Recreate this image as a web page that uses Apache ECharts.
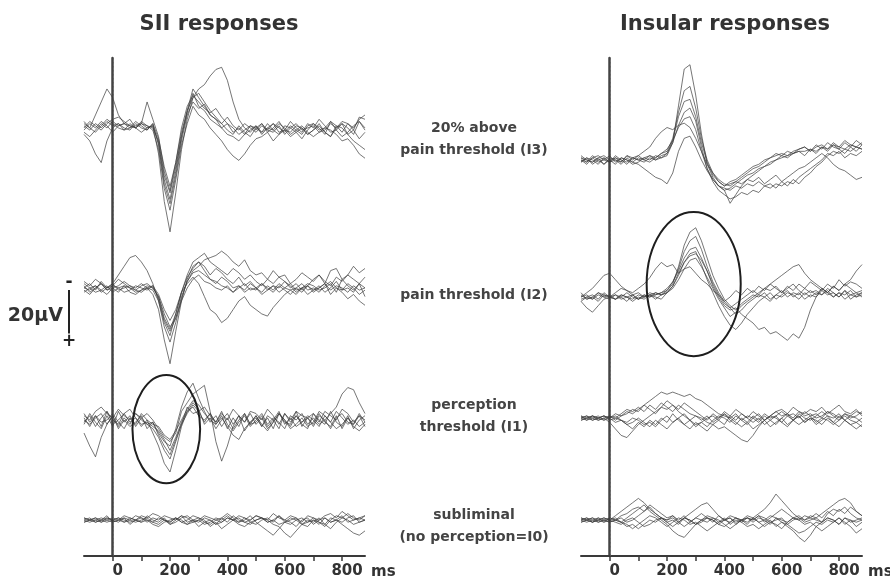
<!DOCTYPE html>
<html><head><meta charset="utf-8">
<script src="https://cdn.jsdelivr.net/npm/echarts@6/dist/echarts.min.js"></script>
<style>html,body{margin:0;padding:0;background:#fff}#c{width:890px;height:584px}</style>
</head><body><div id="c"></div>
<script>
// ---- data ----
const times = [-100,-80,-60,-40,-20,0,20,40,60,80,
  100,120,140,160,180,200,220,240,260,280,
  300,320,340,360,380,400,420,440,460,480,
  500,520,540,560,580,600,620,640,660,680,
  700,720,740,760,780,800,820,840,860,880];
const xTickValues = [0,100,200,300,400,500,600,700,800];
const xLabelValues = [0,200,400,600,800];
const panelTitles = ['SII responses','Insular responses'];
const rowLabels = [['20% above','pain threshold (I3)'],['pain threshold (I2)'],['perception','threshold (I1)'],['subliminal','(no perception=I0)']];
const scaleBarText = '20µV';
const scaleBarValue = 20;
const axisUnit = 'ms';
const stimulusOnset = 0;

// SII, 20% above pain threshold (I3), µV (negative up)
const siiI3 = [
 [1,-2,0,-3,-1,2,-1,-2,0,-3, -1,1,-2,8,26,35,22,6,-6,-12, -9,-11,-6,-4,0,-2,2,0,3,-1, 1,-2,2,0,-3,1,2,-1,0,3, 1,-2,2,4,-1,0,3,1,5,2],
 [-3,0,2,-1,-4,-2,0,1,-2,0, 2,0,-1,12,34,48,30,10,-4,-14, -16,-12,-8,-5,-2,1,3,-1,2,4, 0,2,-2,1,3,-1,0,2,5,1, -2,0,3,-3,1,4,2,-1,-3,0],
 [2,4,1,-2,0,-3,-1,-2,-4,0, -2,-1,0,6,22,30,18,4,-8,-14, -18,-20,-24,-27,-28,-22,-12,-4,0,2, -1,3,0,-2,2,1,-3,0,2,-2, 0,-4,-1,2,1,-2,0,3,-3,1],
 [-2,0,-6,-12,-18,-14,-6,-2,-1,0, -3,-1,1,10,28,38,24,8,-2,-10, -6,-4,0,3,6,10,13,15,12,8, 5,4,2,6,3,1,4,2,0,3, 1,-1,2,4,0,-2,3,6,8,10],
 [3,6,12,16,6,0,-2,1,0,-1, -2,-12,-4,4,20,29,16,2,-8,-18, -14,-10,-6,-4,-2,-5,-1,1,-2,0, 2,-1,1,-2,0,2,-1,1,3,-1, -2,1,0,-3,-1,2,-2,1,-5,-4],
 [0,-3,-1,1,-2,-4,-5,-3,-1,0, -2,0,-1,7,24,33,20,4,-7,-16, -10,-8,-4,-2,0,3,4,6,3,1, -1,2,0,1,-2,0,3,1,-1,2, 4,2,0,1,3,6,5,8,12,14],
 [-1,1,-2,0,-3,-1,-2,0,1,-2, 0,1,-2,5,18,27,16,0,-10,-15, -12,-9,-7,-9,-5,-2,0,3,1,-1, 0,-2,1,2,-1,3,0,-2,1,0, -1,2,1,-2,0,-3,-2,0,-4,-6]
];
// SII, pain threshold (I2)
const siiI2 = [
 [0,-2,1,-3,0,-1,-4,-2,0,1, -1,-2,0,4,12,18,14,6,0,-4, -6,-3,-2,0,1,-1,2,0,-2,1, 0,2,-1,1,-2,0,1,3,0,-1, 2,0,-2,1,-1,0,2,-1,1,0],
 [2,0,-1,1,3,0,2,-1,0,2, 1,0,3,10,24,35,20,6,-4,-10, -12,-8,-4,-3,-1,0,2,-1,1,-2, 0,3,1,-1,2,0,-2,1,0,3, 1,-1,2,0,-3,1,0,2,-2,0],
 [-3,-1,-4,-2,0,-2,-6,-10,-14,-15, -12,-8,-2,6,16,22,12,2,-6,-12, -14,-16,-12,-10,-8,-6,-9,-7,-4,-6, -3,-1,-4,-2,-5,-3,0,-2,1,-1, -4,-6,-3,-1,-5,-3,-6,-4,-2,-5],
 [1,3,0,-2,1,-1,0,2,1,-1, 0,1,-1,5,15,20,14,4,-3,-8, -10,-13,-14,-15,-17,-15,-12,-10,-13,-8, -6,-7,-4,-8,-5,-6,-2,-4,-7,-5, -3,-6,-2,-8,-9,-4,-6,-10,-7,-9],
 [-2,0,2,1,-1,2,0,-1,2,3, 1,-1,0,4,14,19,12,2,-2,-5, -2,4,10,12,16,14,10,6,4,8, 10,12,13,9,6,3,1,0,2,-1, 1,0,-2,3,0,2,5,3,6,8],
 [0,1,-1,2,0,-2,1,0,-1,1, 2,0,1,6,18,25,16,5,-3,-7, -8,-6,-4,-2,-5,-3,0,-1,2,0, 1,-2,0,2,-1,1,3,0,-2,1, 0,2,-1,-3,0,1,-2,0,3,1],
 [-1,2,0,-2,1,0,-1,-3,-1,0, -2,0,-1,3,10,15,10,2,-5,-9, -12,-10,-6,-9,-7,-4,-2,-5,-1,-3, 0,-2,1,-1,0,-3,-1,2,0,-2, -1,1,0,-2,2,-4,-1,1,-2,4]
];
// SII, perception threshold (I1)
const siiI1 = [
 [2,-3,1,4,-2,3,-4,1,-2,3, -1,2,4,8,14,18,10,2,-6,-3, -4,1,-3,2,-2,4,-1,3,-3,2, -2,3,-1,4,-3,1,2,-4,3,-1, 2,-3,1,3,-2,4,-1,2,-3,1],
 [-3,1,-2,3,-4,0,2,-3,1,-1, 3,0,6,12,20,24,14,3,-4,-8, -5,2,-1,4,0,-3,2,-2,5,1, -1,3,-2,0,4,-3,1,-2,2,4, -3,0,2,-4,1,3,-2,4,0,-2],
 [6,12,17,8,2,-2,3,-1,2,-3, 0,2,1,6,10,12,4,-6,-13,-17, -10,-4,1,-2,3,-1,4,0,-3,2, 1,-2,3,0,-4,2,-1,3,1,-2, 0,3,-2,1,-4,-1,2,0,3,1],
 [-2,0,-4,-6,-3,-1,-5,-2,0,-3, -1,-3,0,4,8,10,6,-4,-8,-12, -14,-16,-4,10,19,12,3,-2,1,-3, 2,-1,4,1,-3,0,3,-2,1,-1, 3,-2,0,4,-1,-3,1,2,-2,0],
 [1,-2,3,-1,-4,2,0,-3,-5,-1, 2,1,3,5,9,14,8,1,-4,-6, -2,0,-3,1,-4,2,5,1,-2,3, 0,-3,2,-1,1,4,-2,0,-3,2, -1,2,0,-3,-6,-12,-15,-14,-8,-3],
 [-1,3,-2,1,0,-3,1,4,-1,2, -3,0,2,3,7,9,5,0,-5,-9, -7,-3,0,2,-1,3,7,9,4,1, -2,2,5,1,-3,0,4,2,-1,3, 1,-4,-2,1,4,2,-1,3,5,2],
 [0,2,-1,-3,2,-2,4,0,3,1, -2,4,1,7,12,16,9,2,-3,-7, -4,-6,-2,1,-3,0,-5,-2,1,-4, -3,0,-5,-2,2,-3,0,-4,-2,-1, -3,1,-4,-2,0,-5,-3,1,-2,3]
];
// SII, subliminal (I0)
const siiI0 = [
 [0,-1,1,0,-2,1,0,-1,2,0, 1,-2,0,1,-1,2,0,-2,1,0, -1,1,2,0,-1,1,-2,0,1,2, 0,-1,1,0,-2,1,2,0,-1,1, 0,2,-1,1,0,-2,1,0,-1,0],
 [1,0,-1,1,0,-1,0,1,-1,0, -2,-1,1,-1,0,2,1,-1,-2,0, 1,-1,0,2,-1,-3,-1,1,0,-2, 1,3,5,7,4,1,-1,0,2,1, -1,1,3,0,-2,-1,0,2,1,0],
 [-1,0,1,0,-1,0,1,-1,0,1, 0,-1,-3,-2,0,1,-1,0,2,1, 0,2,1,-1,0,-2,0,-1,1,0, -2,-1,0,2,3,6,8,5,2,0, 1,-1,2,4,1,-1,-3,-1,0,-2],
 [0,1,0,-1,0,1,0,-2,-1,0, 1,0,2,3,1,0,-1,1,0,-2, -1,0,3,1,4,2,0,1,-1,1, 2,0,-1,1,-2,0,1,3,0,-1, 2,0,-1,1,0,2,4,6,7,5],
 [-1,0,0,1,-1,0,-1,1,0,-2, -1,1,-1,0,-2,-1,0,-2,-1,1, 0,-2,-1,0,1,-1,0,-2,-1,0, -2,-1,0,-3,-1,0,-2,-1,1,-2, -1,0,-2,-3,-1,-4,-2,0,-1,-2],
 [1,0,-1,0,1,0,-1,0,1,0, -1,0,1,2,0,1,-1,1,2,0, 3,1,0,2,1,-1,0,2,3,1, 0,-1,1,0,2,1,0,-1,2,3, 0,1,2,-1,0,1,-1,-2,1,0]
];
// Insula, I3
const insI3 = [
 [-1,1,-2,0,2,-1,0,1,-2,-1, 0,-1,-2,0,-1,-2,-8,-25,-42,-44, -30,-12,2,8,12,14,13,11,9,7, 6,4,3,1,0,-1,-2,-3,-4,-4, -5,-4,-6,-5,-7,-6,-5,-7,-6,-5],
 [1,-1,0,2,-1,1,-2,0,1,-1, -2,0,1,-1,-3,-4,-10,-22,-32,-34, -24,-10,0,6,10,12,11,10,8,6, 4,3,1,-1,-2,-3,-2,-4,-5,-6, -4,-6,-7,-5,-8,-6,-9,-7,-6,-8],
 [0,2,-1,1,0,-2,1,-1,0,2, 1,-1,0,-2,-1,-3,-8,-16,-22,-24, -18,-6,4,10,14,16,18,17,15,16, 14,15,12,13,11,12,10,11,8,6, 4,2,0,-3,-2,-4,-1,-3,-2,-4],
 [-2,0,1,-1,2,0,-1,1,-2,0, -2,-4,-6,-10,-13,-15,-14,-16,-17,-15, -10,-4,2,6,9,11,12,10,11,9, 10,8,11,9,7,10,8,6,4,3, 1,-1,-3,-1,2,4,5,7,9,8],
 [1,-1,2,0,-1,1,0,2,-1,1, 2,4,6,8,9,11,6,-4,-10,-11, -6,0,5,9,12,14,20,16,12,9, 7,5,3,2,0,-2,-1,-3,-4,-2, -5,-3,-6,-4,-7,-5,-3,-6,-4,-7],
 [0,1,-1,-2,0,1,-1,0,2,-1, 0,1,-1,0,-2,-3,-9,-20,-27,-28, -20,-8,1,7,10,12,10,9,7,5, 3,2,0,-1,-3,-2,-4,-3,-5,-6, -4,-7,-5,-8,-6,-5,-8,-6,-9,-7],
 [-1,0,1,-1,-2,0,2,-1,0,1, -1,0,-2,-1,-3,-5,-9,-15,-19,-20, -14,-4,4,9,12,13,14,12,13,11, 12,10,12,11,13,10,12,9,11,8, 6,3,1,-2,-4,-3,-5,-4,-6,-5]
];
// Insula, I2
const insI2 = [
 [0,-1,1,-2,0,1,-1,0,2,-1, 1,0,-1,-2,-1,-3,-6,-14,-24,-30, -32,-26,-18,-10,-4,1,4,6,3,1, -1,0,-2,1,-1,-3,0,-2,-1,-4, -2,-3,-1,-4,-2,0,-3,-1,-2,0],
 [1,0,-1,1,-2,0,1,-1,0,1, -1,0,-2,-1,-2,-4,-7,-13,-21,-26, -28,-22,-14,-7,-2,2,5,8,6,3, 1,-1,0,2,-1,0,-2,-1,1,-2, 0,-2,-1,-3,0,-2,1,-1,0,-2],
 [-1,1,0,-2,-1,0,-2,-4,-3,-2, -4,-6,-9,-13,-16,-14,-15,-11,-13,-14, -11,-8,-6,-3,-1,2,0,-3,-1,-4, -2,-5,-3,-6,-4,-2,-5,-3,-6,-4, -7,-5,-3,-6,-4,-8,-5,-7,-6,-4],
 [2,0,1,-1,0,-1,1,0,-2,0, 1,-1,0,-1,-2,-3,-7,-12,-18,-22, -23,-18,-12,-5,0,4,6,5,8,10, 12,15,14,17,16,18,20,17,19,14, 6,0,-4,-2,-5,-3,-6,-8,-12,-15],
 [-2,1,0,2,-1,0,1,-1,0,2, 0,1,-1,0,1,-2,-5,-10,-16,-20, -21,-15,-8,-2,4,9,13,15,12,8, 5,2,0,-2,1,-1,-3,0,-2,1, -1,0,-3,-1,-2,0,-3,1,-1,-2],
 [0,-2,-4,-7,-10,-11,-8,-5,-3,-1, -2,0,-1,1,-1,-2,-4,-8,-13,-17, -18,-14,-9,-4,1,5,9,7,4,2, 0,-2,-4,-3,-5,-2,-4,-6,-3,-1, -3,-1,-4,-2,0,-2,-1,-3,0,-1],
 [2,5,7,4,1,0,-1,1,0,-1, 1,-1,0,-2,-1,-2,-5,-11,-16,-19, -20,-17,-12,-6,-1,3,5,3,1,-1, -3,-1,-4,-6,-8,-10,-12,-14,-15,-11, -8,-6,-4,-2,-5,-3,-6,-4,-2,-3]
];
// Insula, I1
const insI1 = [
 [0,-1,1,0,-1,0,-2,-1,-3,-2, -4,-6,-8,-10,-12,-11,-12,-11,-10,-11, -9,-8,-6,-4,-2,-1,0,-2,1,-1, 0,-2,1,-1,0,2,-1,1,-2,0, 1,-1,-3,-1,0,-2,1,-1,0,2],
 [1,0,-1,1,0,2,5,8,9,6, 3,1,-1,-3,-5,-4,-6,-3,-1,1, 3,2,4,1,-1,0,2,-1,1,3, 0,2,-1,1,3,0,-2,1,-1,2, 0,1,3,0,2,-1,1,3,2,4],
 [-1,1,0,-1,1,0,-1,1,2,0, 1,3,2,4,1,-1,2,0,-2,1, -1,0,2,3,5,4,6,8,10,11, 8,4,1,-1,-3,-1,-2,0,-3,-1, -2,0,-1,-3,-2,0,-2,-1,-3,-2],
 [0,1,-1,0,-1,1,0,-2,-4,-3, -5,-3,-6,-4,-7,-5,-3,-6,-4,-2, -1,1,-1,2,0,-2,1,3,0,2, -1,1,-2,0,-1,-3,-1,-2,0,-3, -1,-2,0,-3,-1,1,-2,0,-1,-3],
 [1,0,-1,0,1,-1,0,1,3,5, 2,4,1,3,0,2,-2,1,3,5, 2,4,6,3,1,3,-1,1,-2,0, 2,0,3,1,-1,2,4,1,3,1, -1,2,0,1,3,1,-1,1,2,0],
 [0,-1,0,1,0,-1,1,-1,-2,-4, -3,-6,-4,-2,-5,-8,-6,-4,-7,-5, -3,-1,1,-2,0,-3,-1,-4,-2,0, -3,-1,1,-1,-3,-4,-2,-5,-3,-2, -4,-3,-5,-2,-4,-6,-3,-2,-4,-1],
 [-1,0,1,0,-1,0,2,1,3,2, 0,2,4,1,3,5,2,0,3,1, 4,2,0,-1,1,-2,0,2,4,2, 5,3,1,4,2,0,3,1,-1,2, 0,3,1,-1,2,4,1,3,5,3]
];
// Insula, I0
const insI0 = [
 [0,-1,1,0,-1,0,-2,-4,-6,-8, -10,-8,-5,-3,-1,0,-2,1,-1,0, 2,0,-1,1,-2,0,1,-1,0,2, -1,1,0,-2,-1,0,1,-1,0,-2, -1,0,1,-1,0,2,-1,0,1,0],
 [1,0,-1,1,0,-1,0,1,-1,-3, -5,-7,-4,-2,0,2,5,7,8,5, 2,0,-2,-1,1,0,-1,2,0,-1, 1,-1,0,2,-1,1,3,5,8,10, 7,3,1,-1,0,2,-1,1,0,-1],
 [-1,0,1,-1,0,1,0,-1,1,0, -2,-4,-6,-3,-1,1,0,2,-1,-3, -5,-7,-8,-5,-2,0,-1,1,0,-1, 0,-2,-1,1,0,-1,2,0,-1,1, 0,-1,-3,-5,-7,-9,-10,-8,-4,-2],
 [0,1,0,-1,1,0,1,2,0,-1, 1,3,2,0,-1,1,3,1,-1,0, 2,1,-1,0,2,3,1,-1,0,-2, -1,-3,-5,-8,-12,-9,-6,-3,-1,0, -2,-1,1,-3,-5,-4,-6,-3,-1,0],
 [-1,0,1,0,-1,0,-1,1,2,4, 2,0,-2,-1,1,3,1,-1,0,2, 1,3,5,3,1,-1,2,0,1,3, 2,4,2,0,3,1,2,4,6,5, 3,1,2,0,1,-1,2,0,3,1],
 [1,0,-1,0,1,-1,0,-2,-3,-5, -6,-4,-7,-5,-3,-1,-2,0,-2,1, -1,-3,-1,0,2,0,-2,-1,1,-1, 0,-2,1,-1,-3,-5,-3,-1,-2,0, -1,-3,-1,-4,-2,-5,-3,-6,-4,-2],
 [0,-1,0,1,0,1,0,1,3,2, 4,2,0,1,-1,0,-1,1,3,1, -1,0,1,-1,0,2,4,2,0,1, -1,1,3,1,2,4,1,-1,0,2, 1,3,5,3,1,-1,1,3,6,4]
];
// highlighted windows: [centre ms, centre row coordinate, half-width ms, half-height]
const highlightSII = [187, 171.4, 118, 25];
const highlightIns = [293, 104.4, 164, 33.3];

// ---- layout (not data) ----
const rowOffsetsSII = [32.3, 106.2, 167.2, 213.4];
const rowOffsetsIns = [47.1, 110.4, 166.3, 213.4];
const FONT = 'DejaVu Sans';
const TRACE = 'rgba(60,60,60,0.7)';
const Y_MIN = 0, Y_MAX = 230;

const chart = echarts.init(document.getElementById('c'), null, {renderer:'canvas'});

function traceSeries(rows, offset, idx) {
  return rows.map(vals => ({
    type:'line', xAxisIndex:idx, yAxisIndex:idx, symbol:'none', silent:true, animation:false,
    lineStyle:{color:TRACE, width:1}, z:3,
    data: times.map((t,i) => [t, offset + vals[i]])
  }));
}
let series = [];
[siiI3, siiI2, siiI1, siiI0].forEach((r,k) => { series = series.concat(traceSeries(r, rowOffsetsSII[k], 0)); });
[insI3, insI2, insI1, insI0].forEach((r,k) => { series = series.concat(traceSeries(r, rowOffsetsIns[k], 1)); });

function xAxisCfg(idx){
  return {type:'value', gridIndex:idx, min:-100, max:880, interval:100,
    axisLine:{show:true, onZero:false, lineStyle:{color:'#3a3a3a', width:2}},
    axisTick:{show:true, customValues:xTickValues, length:5, lineStyle:{color:'#3a3a3a', width:1.5}},
    axisLabel:{customValues:xLabelValues, fontFamily:FONT, fontWeight:'bold', fontSize:15, color:'#333', margin:8,
      padding:[0,0,0,10], formatter: v => (xLabelValues.indexOf(v) >= 0 ? String(v) : '')},
    splitLine:{show:false}};
}
function yAxisCfg(idx){
  return {type:'value', gridIndex:idx, min:Y_MIN, max:Y_MAX, inverse:true,
    axisLine:{show:true, lineStyle:{color:'#444', width:2.5}},
    axisTick:{show:false}, axisLabel:{show:false}, splitLine:{show:false}};
}

chart.setOption({
  backgroundColor:'#fff', animation:false,
  grid:[{left:84, right:525, top:58, bottom:28}, {left:581, right:28, top:58, bottom:28}],
  xAxis:[xAxisCfg(0), xAxisCfg(1)],
  yAxis:[yAxisCfg(0), yAxisCfg(1)],
  series: series
});

// ---- annotations positioned through the chart's scales ----
const g = [];
function txt(text, x, y, size, color, align){
  g.push({type:'text', x:x, y:y, z:10, silent:true,
    style:{text:text, font:'bold '+size+'px "'+FONT+'"', fill:color, textAlign:align||'center', textVerticalAlign:'middle'}});
}
txt(panelTitles[0], 219, 25, 21, '#333');
txt(panelTitles[1], 725, 25, 21, '#333');
const labelY = [[128,150],[295],[405,427],[515,537]];
rowLabels.forEach((lines,k) => lines.forEach((s,j) => txt(s, 474, labelY[k][j], 14, '#444')));

// dotted stimulus-onset lines
[0,1].forEach(idx => {
  const a = chart.convertToPixel({xAxisIndex:idx, yAxisIndex:idx}, [stimulusOnset, Y_MIN]);
  const b = chart.convertToPixel({xAxisIndex:idx, yAxisIndex:idx}, [stimulusOnset, Y_MAX]);
  const x = Math.round(a[0]) + 0.5;
  g.push({type:'line', z:9, silent:true, shape:{x1:x, y1:a[1], x2:x, y2:b[1]},
    style:{stroke:'#666', lineWidth:1, lineDash:[1.5,2.5]}});
});

function ellipse(idx, h){
  const c = chart.convertToPixel({xAxisIndex:idx, yAxisIndex:idx}, [h[0], h[1]]);
  const e = chart.convertToPixel({xAxisIndex:idx, yAxisIndex:idx}, [h[0]+h[2], h[1]+h[3]]);
  g.push({type:'ellipse', z:8, silent:true, shape:{cx:c[0], cy:c[1], rx:Math.abs(e[0]-c[0]), ry:Math.abs(e[1]-c[1])},
    style:{fill:'none', stroke:'#1e1e1e', lineWidth:2}});
}
ellipse(0, highlightSII);
ellipse(1, highlightIns);

// scale bar: 20 µV on the y scale
const barTopVal = 107.2;
const pTop = chart.convertToPixel({yAxisIndex:0}, barTopVal);
const pBot = chart.convertToPixel({yAxisIndex:0}, barTopVal + scaleBarValue);
g.push({type:'line', z:10, silent:true, shape:{x1:69, y1:pTop, x2:69, y2:pBot}, style:{stroke:'#222', lineWidth:2}});
txt('-', 69, pTop-8, 17, '#222');
txt('+', 69, pBot+8, 17, '#222');
txt(scaleBarText, 63, (pTop+pBot)/2+4, 19, '#333', 'right');

// "ms" unit after the 800 label
[0,1].forEach(idx => {
  const p = chart.convertToPixel({xAxisIndex:idx}, 800);
  txt(axisUnit, p + 29, 572, 15, '#333', 'left');
});

chart.setOption({graphic: g});
</script>
</body></html>
